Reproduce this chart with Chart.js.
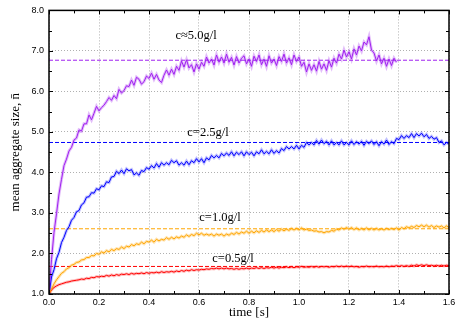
<!DOCTYPE html>
<html>
<head>
<meta charset="utf-8">
<script src="https://cdn.jsdelivr.net/npm/chart.js@4.4.1/dist/chart.umd.min.js"></script>
<style>
  html, body { margin: 0; background: #fff; }
  #wrap { width: 463px; height: 324px; }
</style>
</head>
<body>
<div id="wrap"><canvas id="chart"></canvas></div>
<script>
// sampling times, 0.00 .. 1.60 s in 0.01 s steps
const time = [];
for (let i = 0; i <= 160; i++) time.push(i / 100);

// mean aggregate size per concentration
const c50 = [
  1.00, 1.85, 2.52, 2.98, 3.47, 3.83, 4.17, 4.33, 4.53, 4.62,
  4.80, 4.85, 5.05, 5.02, 5.20, 5.20, 5.42, 5.30, 5.46, 5.63,
  5.52, 5.60, 5.66, 5.75, 5.85, 5.78, 5.90, 5.82, 6.05, 5.96,
  6.02, 6.14, 6.12, 6.28, 6.15, 6.35, 6.30, 6.18, 6.24, 6.38,
  6.32, 6.45, 6.30, 6.42, 6.28, 6.22, 6.40, 6.53, 6.40, 6.55,
  6.42, 6.62, 6.52, 6.75, 6.60, 6.78, 6.58, 6.66, 6.48, 6.68,
  6.55, 6.72, 6.62, 6.85, 6.70, 6.80, 6.65, 6.90, 6.72, 6.85,
  6.70, 6.92, 6.72, 6.84, 6.65, 6.86, 6.70, 6.82, 6.88, 6.68,
  6.80, 6.62, 6.87, 6.74, 6.90, 6.66, 6.80, 6.62, 6.88, 6.70,
  6.80, 6.64, 6.86, 6.74, 6.92, 6.70, 6.83, 6.66, 6.90, 6.74,
  6.85, 6.62, 6.72, 6.48, 6.68, 6.52, 6.66, 6.50, 6.74, 6.55,
  6.68, 6.52, 6.76, 6.60, 6.82, 6.70, 6.92, 6.80, 7.02, 6.85,
  6.98, 6.80, 7.05, 6.90, 7.12, 7.00, 7.22, 7.15, 7.35, 7.02,
  6.95, 6.75, 6.90, 6.68, 6.82, 6.62, 6.80, 6.64, 6.82, 6.72
];
const c25 = [
  1.00, 1.42, 1.60, 1.87, 2.03, 2.27, 2.40, 2.57, 2.66, 2.82,
  2.89, 3.03, 3.06, 3.20, 3.25, 3.39, 3.40, 3.50, 3.49, 3.60,
  3.57, 3.67, 3.65, 3.77, 3.75, 3.89, 3.90, 4.03, 3.97, 4.06,
  3.97, 4.09, 4.04, 4.07, 3.94, 3.99, 3.93, 4.05, 4.02, 4.12,
  4.08, 4.17, 4.11, 4.22, 4.13, 4.24, 4.18, 4.24, 4.19, 4.30,
  4.24, 4.29, 4.18, 4.24, 4.18, 4.28, 4.19, 4.29, 4.24, 4.34,
  4.26, 4.34, 4.24, 4.36, 4.31, 4.42, 4.36, 4.42, 4.36, 4.47,
  4.41, 4.48, 4.42, 4.51, 4.41, 4.50, 4.44, 4.51, 4.41, 4.51,
  4.44, 4.50, 4.41, 4.51, 4.46, 4.56, 4.46, 4.52, 4.46, 4.56,
  4.47, 4.54, 4.48, 4.59, 4.54, 4.64, 4.58, 4.64, 4.58, 4.67,
  4.58, 4.67, 4.62, 4.74, 4.68, 4.74, 4.68, 4.79, 4.70, 4.80,
  4.71, 4.77, 4.68, 4.78, 4.68, 4.74, 4.68, 4.78, 4.68, 4.74,
  4.68, 4.78, 4.69, 4.76, 4.70, 4.77, 4.67, 4.77, 4.71, 4.78,
  4.69, 4.76, 4.66, 4.76, 4.70, 4.80, 4.69, 4.76, 4.71, 4.84,
  4.81, 4.91, 4.84, 4.91, 4.86, 4.96, 4.86, 4.96, 4.90, 4.97,
  4.88, 4.94, 4.84, 4.89, 4.82, 4.86, 4.74, 4.78, 4.68, 4.74,
  4.70
];
const c10 = [
  1.00, 1.12, 1.25, 1.35, 1.43, 1.51, 1.55, 1.62, 1.65, 1.71,
  1.73, 1.78, 1.79, 1.84, 1.85, 1.90, 1.90, 1.95, 1.94, 2.00,
  1.98, 2.04, 2.01, 2.07, 2.04, 2.10, 2.07, 2.12, 2.10, 2.16,
  2.12, 2.18, 2.16, 2.22, 2.19, 2.24, 2.22, 2.28, 2.24, 2.30,
  2.28, 2.33, 2.28, 2.35, 2.31, 2.35, 2.33, 2.39, 2.35, 2.40,
  2.36, 2.41, 2.38, 2.43, 2.40, 2.46, 2.42, 2.47, 2.44, 2.50,
  2.46, 2.50, 2.45, 2.48, 2.45, 2.48, 2.43, 2.48, 2.45, 2.48,
  2.43, 2.48, 2.45, 2.50, 2.47, 2.52, 2.48, 2.53, 2.50, 2.55,
  2.50, 2.55, 2.51, 2.56, 2.52, 2.57, 2.53, 2.58, 2.54, 2.58,
  2.54, 2.59, 2.55, 2.60, 2.56, 2.60, 2.57, 2.62, 2.58, 2.62,
  2.58, 2.63, 2.58, 2.60, 2.57, 2.58, 2.55, 2.56, 2.53, 2.54,
  2.51, 2.54, 2.53, 2.57, 2.55, 2.60, 2.58, 2.63, 2.60, 2.64,
  2.60, 2.64, 2.59, 2.63, 2.58, 2.62, 2.58, 2.63, 2.58, 2.62,
  2.58, 2.62, 2.58, 2.61, 2.58, 2.62, 2.59, 2.62, 2.59, 2.63,
  2.58, 2.64, 2.61, 2.66, 2.63, 2.67, 2.64, 2.69, 2.66, 2.70,
  2.66, 2.70, 2.65, 2.69, 2.64, 2.68, 2.65, 2.68, 2.63, 2.68,
  2.64
];
const c05 = [
  1.00, 1.10, 1.16, 1.20, 1.23, 1.25, 1.27, 1.29, 1.30, 1.32,
  1.33, 1.34, 1.35, 1.37, 1.36, 1.39, 1.38, 1.41, 1.40, 1.43,
  1.42, 1.44, 1.43, 1.46, 1.44, 1.47, 1.45, 1.48, 1.46, 1.49,
  1.48, 1.50, 1.48, 1.51, 1.49, 1.51, 1.50, 1.52, 1.50, 1.53,
  1.51, 1.53, 1.52, 1.54, 1.52, 1.55, 1.53, 1.55, 1.54, 1.56,
  1.54, 1.57, 1.55, 1.58, 1.56, 1.59, 1.57, 1.60, 1.58, 1.60,
  1.59, 1.61, 1.60, 1.62, 1.61, 1.63, 1.62, 1.64, 1.62, 1.64,
  1.62, 1.64, 1.62, 1.63, 1.61, 1.63, 1.61, 1.63, 1.62, 1.64,
  1.62, 1.64, 1.63, 1.65, 1.63, 1.65, 1.63, 1.65, 1.64, 1.66,
  1.64, 1.66, 1.64, 1.66, 1.65, 1.67, 1.65, 1.67, 1.65, 1.67,
  1.66, 1.68, 1.66, 1.67, 1.66, 1.68, 1.66, 1.68, 1.66, 1.68,
  1.67, 1.68, 1.66, 1.68, 1.67, 1.69, 1.67, 1.69, 1.67, 1.69,
  1.67, 1.69, 1.67, 1.68, 1.66, 1.68, 1.67, 1.69, 1.67, 1.68,
  1.67, 1.69, 1.67, 1.68, 1.67, 1.69, 1.67, 1.69, 1.68, 1.70,
  1.68, 1.70, 1.68, 1.70, 1.68, 1.71, 1.69, 1.72, 1.70, 1.72,
  1.70, 1.72, 1.70, 1.71, 1.69, 1.71, 1.69, 1.71, 1.69, 1.71,
  1.70
];

// long-time plateau of each run (dashed lines)
const plateaus = [6.77, 4.74, 2.61, 1.68];
const seriesNames = ['c≈5.0g/l', 'c=2.5g/l', 'c=1.0g/l', 'c=0.5g/l'];
const xTicks = [0.0, 0.2, 0.4, 0.6, 0.8, 1.0, 1.2, 1.4, 1.6];
const yTicks = [1.0, 2.0, 3.0, 4.0, 5.0, 6.0, 7.0, 8.0];

const colors = ['#a020f0', '#0000ff', '#ffa500', '#ff0000'];
const halos = ['rgba(160,32,240,0.3)', 'rgba(0,0,255,0.25)', 'rgba(255,165,0,0.3)', 'rgba(255,0,0,0.25)'];
// where the curve labels sit, in data units (t, n)
const labelAt = [[0.588, 7.38], [0.636, 4.97], [0.684, 2.88], [0.736, 1.87]];

const series = [c50, c25, c10, c05];
const toPoints = vals => vals.map((y, i) => ({ x: time[i], y }));

const datasets = [];
series.forEach((vals, k) => {
  datasets.push({ data: toPoints(vals), borderColor: colors[k], borderWidth: 1 });
});
series.forEach((vals, k) => {
  datasets.push({ data: toPoints(vals), borderColor: halos[k], borderWidth: 3 });
});
plateaus.forEach((p, k) => {
  datasets.push({
    data: [{ x: xTicks[0], y: p }, { x: xTicks[xTicks.length - 1], y: p }],
    borderColor: colors[k], borderWidth: 1, borderDash: [4, 2]
  });
});

// inside ticks on all four sides, the frame and the curve labels
const frame = {
  id: 'frame',
  afterDraw(chart) {
    const { ctx, chartArea: a, scales: { x, y } } = chart;
    ctx.save();
    ctx.strokeStyle = '#000';
    ctx.lineWidth = 1;
    ctx.beginPath();
    for (let i = 0; i <= 16; i++) {
      const px = Math.round(x.getPixelForValue(i / 10)) + 0.5;
      const len = i % 2 ? 3 : 4;
      ctx.moveTo(px, a.bottom); ctx.lineTo(px, a.bottom - len);
      ctx.moveTo(px, a.top); ctx.lineTo(px, a.top + len);
    }
    for (let i = 0; i <= 14; i++) {
      const py = Math.round(y.getPixelForValue(1 + i / 2)) + 0.5;
      const len = i % 2 ? 3 : 4;
      ctx.moveTo(a.left, py); ctx.lineTo(a.left + len, py);
      ctx.moveTo(a.right, py); ctx.lineTo(a.right - len, py);
    }
    ctx.stroke();
    ctx.lineWidth = 1.5;
    ctx.strokeRect(a.left, a.top, a.right - a.left, a.bottom - a.top);

    ctx.fillStyle = '#000';
    ctx.font = '12.5px "Liberation Serif"';
    ctx.textAlign = 'center';
    ctx.textBaseline = 'middle';
    seriesNames.forEach((name, k) => {
      ctx.fillText(name, x.getPixelForValue(labelAt[k][0]), y.getPixelForValue(labelAt[k][1]));
    });
    ctx.restore();
  }
};

new Chart(document.getElementById('chart'), {
  type: 'line',
  data: { datasets },
  options: {
    responsive: true,
    maintainAspectRatio: false,
    animation: false,
    layout: { padding: { left: 0, right: 14, top: 10, bottom: 0 } },
    elements: { point: { radius: 0 }, line: { tension: 0 } },
    plugins: { legend: { display: false }, tooltip: { enabled: false } },
    scales: {
      x: {
        type: 'linear',
        min: 0,
        max: 1.6,
        afterBuildTicks: s => { s.ticks = xTicks.map(v => ({ value: v })); },
        afterFit: s => { s.height = 30; },
        ticks: {
          padding: 3,
          color: '#000',
          font: { family: 'Liberation Sans', size: 9 },
          callback: v => v.toFixed(1)
        },
        grid: { color: '#b0b0b0', drawTicks: false },
        border: { display: false, dash: [1, 2] },
        title: {
          display: true,
          text: 'time [s]',
          color: '#000',
          font: { family: 'Liberation Serif', size: 13 },
          padding: { top: 0, bottom: 4 }
        }
      },
      y: {
        min: 1,
        max: 8,
        afterBuildTicks: s => { s.ticks = yTicks.map(v => ({ value: v })); },
        afterFit: s => { s.width = 49; },
        ticks: {
          padding: 5,
          color: '#000',
          font: { family: 'Liberation Sans', size: 9 },
          callback: v => v.toFixed(1)
        },
        grid: { color: '#b0b0b0', drawTicks: false },
        border: { display: false, dash: [1, 2] },
        title: {
          display: true,
          text: 'mean aggregate size, n\u0304',
          color: '#000',
          font: { family: 'Liberation Serif', size: 13 },
          padding: { top: 8, bottom: 0 }
        }
      }
    }
  },
  plugins: [frame]
});
</script>
</body>
</html>
